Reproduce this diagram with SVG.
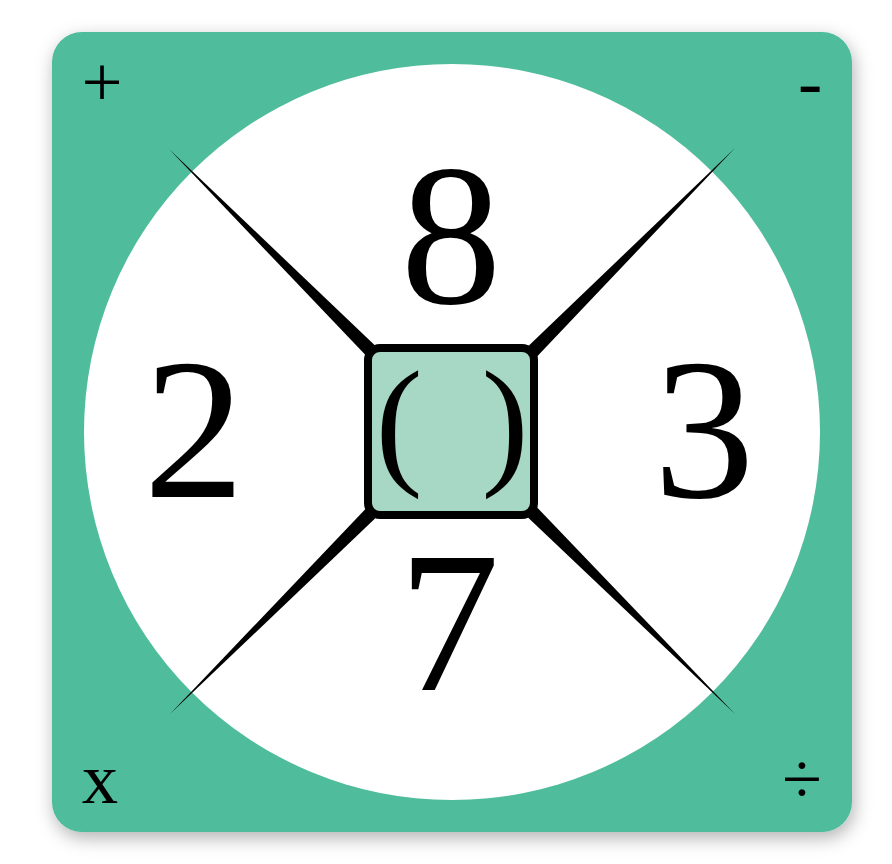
<svg xmlns="http://www.w3.org/2000/svg" width="892" height="864" viewBox="0 0 892 864">
<defs>
<filter id="sh" x="-10%" y="-10%" width="120%" height="125%">
<feDropShadow dx="2" dy="6" stdDeviation="9" flood-color="#000" flood-opacity="0.3"/>
</filter>
</defs>
<style>
text{font-family:'Liberation Serif','Times New Roman',Tinos,serif;font-size-adjust:cap-height 0.662;text-anchor:middle;fill:#000}
.num{font-size:200px}
.par{font-size:140px}
.op{font-size:72px}
.spike{fill:#000}
</style>
<rect width="892" height="864" fill="#fff"/>
<g id="card">
<rect x="52" y="32" width="800" height="800" rx="30" fill="#4fbd9b" filter="url(#sh)"/>
<circle cx="452" cy="432" r="368" fill="#fff"/>
</g>
<g id="connectors">
<polygon class="spike" points="169,149 385,355 375,365"/>
<polygon class="spike" points="735,148 519,355 529,365"/>
<polygon class="spike" points="170,714 385,509 375,499"/>
<polygon class="spike" points="735,714 519,509 529,499"/>
</g>
<g id="center">
<rect x="368" y="348" width="166" height="167" rx="12" fill="#a7d7c5" stroke="#000" stroke-width="8"/>
<text class="par" y="469"><tspan x="399">(</tspan><tspan x="505">)</tspan></text>
</g>
<g id="n8"><text class="num" x="451" y="303">8</text></g>
<g id="n2"><text class="num" x="194" y="497">2</text></g>
<g id="n3"><text class="num" x="704" y="497">3</text></g>
<g id="n7"><text class="num" x="449" y="690">7</text></g>
<g id="ops">
<text class="op" x="102" y="106">+</text>
<text class="op" x="810" y="106">-</text>
<text class="op" x="100" y="803">x</text>
<text class="op" x="802" y="803">÷</text>
</g>
</svg>
